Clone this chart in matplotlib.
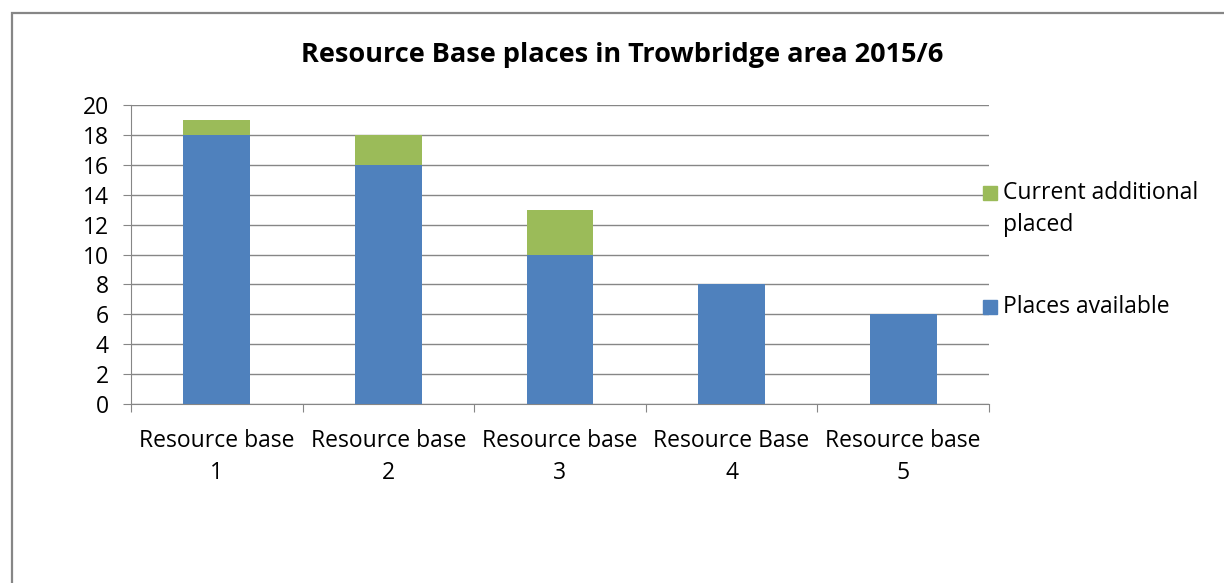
import matplotlib
matplotlib.use('Agg')
import matplotlib.pyplot as plt
from matplotlib.patches import Rectangle

plt.rcParams['font.family'] = ['Open Sans', 'DejaVu Sans']

# chart data
categories = ['Resource base\n1', 'Resource base\n2', 'Resource base\n3',
              'Resource Base\n4', 'Resource base\n5']
places_available = [18, 16, 10, 8, 6]
additional_placed = [1, 2, 3, 0, 0]
series_names = ['Current additional\nplaced', 'Places available']
blue = '#4F81BD'
green = '#9BBB59'
grey = '#868686'

W, H = 1224, 583
fig = plt.figure(figsize=(W / 100, H / 100), dpi=100)

# outer chart frame (cut off at right and bottom like the screenshot)
fig.add_artist(Rectangle((12 / W, -0.1), 1.2, 1 - 13 / H + 0.1,
                         transform=fig.transFigure, fill=False,
                         edgecolor=grey, linewidth=1.6))

ax = fig.add_axes([131 / W, (H - 404) / H, (989 - 131) / W, (404 - 105) / H])
x = list(range(len(categories)))
ax.bar(x, places_available, width=0.39, color=blue, zorder=3)
ax.bar(x, additional_placed, width=0.39, bottom=places_available,
       color=green, zorder=3)

ax.set_xlim(-0.5, len(categories) - 0.5)
ax.set_ylim(0, 20)
ax.set_yticks(range(0, 21, 2))
ax.tick_params(axis='y', length=6, color=grey, labelsize=16.5, pad=10,
               labelcolor='#000000')
ax.yaxis.grid(True, color=grey, linewidth=1)
ax.set_axisbelow(True)

# category labels between boundary ticks
ax.set_xticks([i - 0.5 for i in range(len(categories) + 1)])
ax.set_xticklabels([])
ax.tick_params(axis='x', length=6, color=grey)
ax.set_xticks(x, minor=True)
ax.set_xticklabels(categories, minor=True, fontsize=16.5, linespacing=1.42)
ax.tick_params(axis='x', which='minor', length=0, pad=18)

for side in ['top', 'right']:
    ax.spines[side].set_visible(False)
ax.spines['left'].set_color(grey)
ax.spines['bottom'].set_color(grey)

fig.text(622 / W, 1 - 55 / H, 'Resource Base places in Trowbridge area 2015/6',
         ha='center', va='center', fontsize=19.5, fontweight='bold')

# legend drawn by hand to mirror the Excel layout
for name, col, yc, ytxt in [(series_names[0], green, 193, 209),
                            (series_names[1], blue, 307, 307)]:
    fig.add_artist(Rectangle((983 / W, 1 - (yc + 7) / H), 14 / W, 14 / H,
                             transform=fig.transFigure, color=col))
    fig.text(1003 / W, 1 - ytxt / H, name, ha='left', va='center',
             fontsize=16.5, linespacing=1.42)

fig.savefig('out.png', dpi=100, facecolor='white')
